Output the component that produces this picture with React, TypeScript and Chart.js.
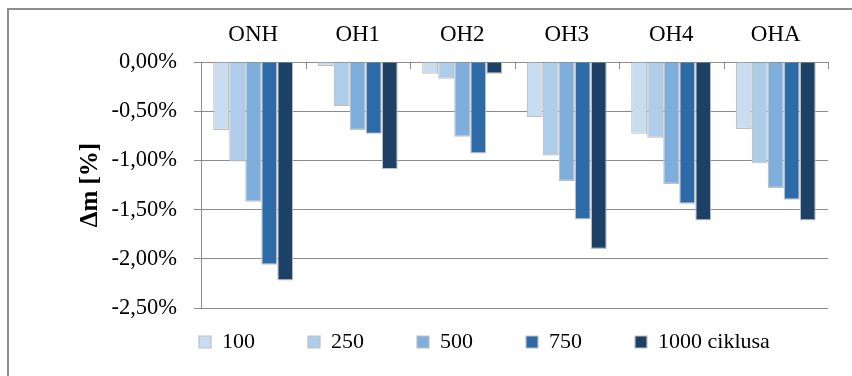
import React, { useEffect, useRef } from "react";
import { Chart, registerables } from "chart.js";

Chart.register(...registerables);

const categories = ["ONH", "OH1", "OH2", "OH3", "OH4", "OHA"];
const seriesNames = ["100", "250", "500", "750", "1000 ciklusa"];
const s100 = [-0.69, -0.04, -0.12, -0.56, -0.73, -0.68];
const s250 = [-1.01, -0.45, -0.17, -0.95, -0.77, -1.03];
const s500 = [-1.42, -0.69, -0.76, -1.21, -1.24, -1.28];
const s750 = [-2.06, -0.73, -0.93, -1.6, -1.44, -1.4];
const s1000 = [-2.22, -1.09, -0.12, -1.9, -1.61, -1.61];
const seriesColors = ["#C9DDF1", "#ADCDEA", "#7EAEDB", "#2C6BA8", "#1D4066"];
const yMin = -2.5;
const yMax = 0;
const yStep = 0.5;

const FONT = "'Liberation Serif', 'Times New Roman', serif";
const GRID = "#8c8c8c";

export default function App() {
  const ref = useRef<HTMLCanvasElement | null>(null);

  useEffect(() => {
    if (!ref.current) return;
    const values = [s100, s250, s500, s750, s1000];

    const innerTicks = {
      id: "innerTicks",
      afterDatasetsDraw(chart: any) {
        const x = chart.scales.x;
        const top = chart.chartArea.top;
        const ctx = chart.ctx;
        ctx.save();
        ctx.strokeStyle = GRID;
        ctx.lineWidth = 1;
        for (let i = 0; i <= categories.length; i++) {
          const px = Math.round(x.getPixelForValue(i - 0.5)) + 0.5;
          ctx.beginPath();
          ctx.moveTo(px, top);
          ctx.lineTo(px, top + 7);
          ctx.stroke();
        }
        ctx.restore();
      },
    };

    const legendPlace = {
      id: "legendPlace",
      afterLayout(chart: any) {
        const lg = chart.legend;
        if (!lg) return;
        const pad = lg.options.labels.padding;
        const h = lg.height;
        lg.top = 331 - pad;
        lg.bottom = lg.top + h;
        lg.left = 199 - pad;
      },
    };

    const chart = new Chart(ref.current, {
      type: "bar",
      data: {
        labels: categories,
        datasets: seriesNames.map((name, i) => ({
          label: name,
          data: values[i],
          backgroundColor: seriesColors[i],
          borderColor: "#bfbfbf",
          borderWidth: 1.2,
          barPercentage: 1,
          categoryPercentage: 0.766,
        })),
      },
      options: {
        responsive: false,
        animation: false,
        layout: { padding: { left: 70, right: 24, top: 0, bottom: 0 } },
        plugins: {
          tooltip: { enabled: false },
          legend: {
            position: "bottom",
            align: "start",
            labels: {
              boxWidth: 12,
              boxHeight: 12,
              padding: 53,
              color: "#000",
              font: { family: FONT, size: 22 },
            },
          },
        },
        scales: {
          x: {
            position: "top",
            grid: { display: false, drawTicks: false, tickLength: 0 },
            border: { display: true, color: GRID, width: 1 },
            ticks: {
              color: "#000",
              padding: 13,
              font: { family: FONT, size: 23 },
            },
            afterFit(scale: any) {
              scale.height = 62;
            },
          },
          y: {
            min: yMin,
            max: yMax,
            ticks: {
              stepSize: yStep,
              color: "#000",
              padding: 17,
              font: { family: FONT, size: 22.5 },
              callback: (v: any) => Number(v).toFixed(2).replace(".", ",") + "%",
            },
            grid: { color: GRID, lineWidth: 1, tickLength: 7, drawTicks: true },
            border: { display: true, color: GRID, width: 1 },
            title: {
              display: true,
              text: "Δm [%]",
              color: "#000",
              font: { family: FONT, size: 25, weight: "bold" },
              padding: { top: 6, bottom: 0 },
            },
            afterFit(scale: any) {
              scale.width = 131;
            },
          },
        },
      },
      plugins: [innerTicks, legendPlace],
    });

    return () => chart.destroy();
  }, []);

  return (
    <div style={{ position: "fixed", left: 0, top: 0, width: 852, height: 393, background: "#fff" }}>
      <div
        style={{
          position: "absolute",
          left: 7,
          top: 8,
          width: 860,
          height: 400,
          borderTop: "2px solid #8e8e8e",
          borderLeft: "2px solid #8e8e8e",
        }}
      />
      <canvas ref={ref} width={852} height={393} style={{ position: "absolute", left: 0, top: 0 }} />
    </div>
  );
}
